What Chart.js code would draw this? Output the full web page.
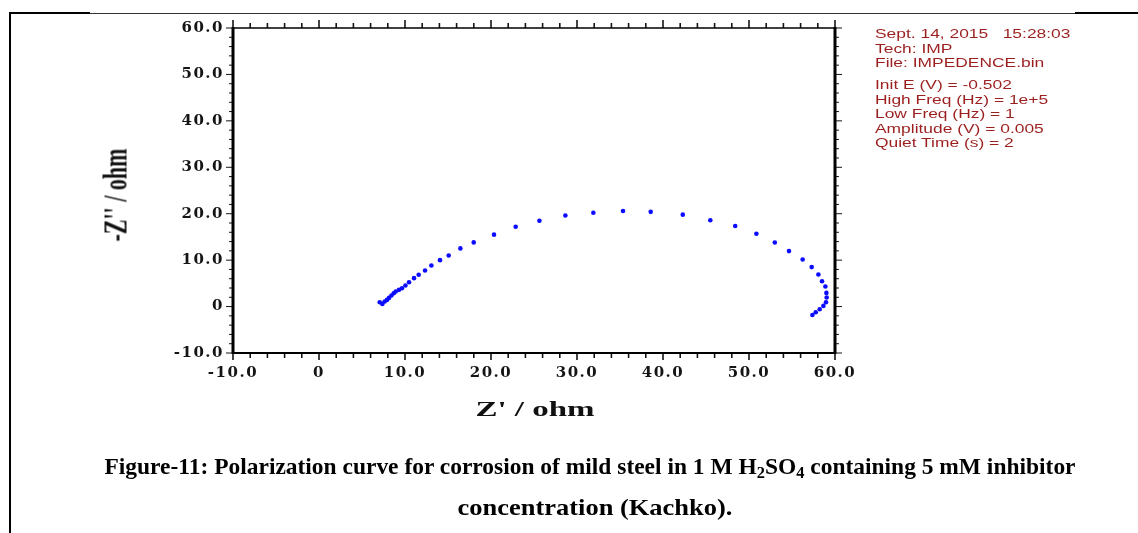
<!DOCTYPE html>
<html>
<head>
<meta charset="utf-8">
<script src="https://cdn.jsdelivr.net/npm/chart.js@4.4.1/dist/chart.umd.min.js"></script>
<style>
  html, body { margin: 0; padding: 0; background: #fff; }
  #page { position: relative; width: 1138px; height: 533px; overflow: hidden; background: #fff; }
  #chart { position: absolute; left: 0; top: 0; }
  .ln { position: absolute; background: #000; }
  .anchor { position: absolute; width: 0; height: 0; }
  .anchor > span { position: absolute; left: 0; top: 0; white-space: pre; }
  #ytitle span { font: bold 22px "Liberation Serif", "Times New Roman", serif; color: #111;
                 transform: translate(-50%, -50%) rotate(-90deg) scaleY(1.5); }
  #xtitle span { font: bold 22px "Liberation Serif", "Times New Roman", serif; color: #111;
                 transform: translate(-50%, -50%) scaleX(1.5); }
  #info { position: absolute; left: 875px; top: 27px; transform-origin: 0 0; transform: scaleX(1.45);
          font: 12px "Liberation Sans", Arial, sans-serif; line-height: 14.5px; color: #9c1f1f; white-space: pre; }
  #info .gap { height: 7.7px; }
  .cap span { font: bold 23px "Liberation Serif", "Times New Roman", serif; color: #000; white-space: nowrap; }
  .cap sub { font-size: 0.7em; vertical-align: -0.25em; line-height: 0; }
</style>
</head>
<body>
<div id="page">
  <canvas id="chart" width="1138" height="533"></canvas>
  <div class="ln" style="left:9px; top:13px; width:1129px; height:1px; background:#333;"></div>
  <div class="ln" style="left:9px; top:12px; width:81px; height:2px;"></div>
  <div class="ln" style="left:1075px; top:12px; width:63px; height:2px;"></div>
  <div class="ln" style="left:9px; top:12px; width:2px; height:521px;"></div>
  <div class="anchor" id="ytitle" style="left:116px; top:195px;"><span>-Z'' / ohm</span></div>
  <div class="anchor" id="xtitle" style="left:535px; top:409px;"><span>Z' / ohm</span></div>
  <div id="info"><div>Sept. 14, 2015   15:28:03</div><div>Tech: IMP</div><div>File: IMPEDENCE.bin</div><div class="gap"></div><div>Init E (V) = -0.502</div><div>High Freq (Hz) = 1e+5</div><div>Low Freq (Hz) = 1</div><div>Amplitude (V) = 0.005</div><div>Quiet Time (s) = 2</div></div>
  <div class="anchor cap" style="left:590px; top:467px;"><span style="transform: translate(-50%, -50%) scaleX(1.02);">Figure-11: Polarization curve for corrosion of mild steel in 1 M H<sub>2</sub>SO<sub>4</sub> containing 5 mM inhibitor</span></div>
  <div class="anchor cap" style="left:594.5px; top:508px;"><span style="transform: translate(-50%, -50%) scaleX(1.15);">concentration (Kachko).</span></div>
</div>
<script>
// ---- data ----
const zReal = [7.06, 7.37, 7.64, 7.91, 8.14, 8.42, 8.69, 8.92, 9.30, 9.65,
               10.05, 10.47, 11.05, 11.59, 12.33, 13.07, 14.07, 15.08, 16.44, 17.99,
               20.35, 22.87, 25.63, 28.65, 31.9, 35.35, 38.57, 42.3, 45.5, 48.4,
               50.86, 53.0, 54.65, 56.24, 57.29, 58.07, 58.49, 58.88, 59.0, 59.03,
               58.95, 58.65, 58.22, 57.76, 57.37];
const zImag = [0.93, 0.58, 1.08, 1.44, 1.87, 2.37, 2.88, 3.24, 3.60, 3.96,
               4.54, 5.25, 6.12, 6.84, 7.78, 8.86, 10.0, 11.0, 12.53, 13.82,
               15.49, 17.2, 18.5, 19.6, 20.2, 20.6, 20.4, 19.8, 18.6, 17.35,
               15.7, 13.8, 11.95, 10.15, 8.5, 6.9, 5.47, 4.32, 2.95, 1.94,
               0.93, 0.15, -0.58, -1.23, -1.8];
const xTickValues = [-10, 0, 10, 20, 30, 40, 50, 60];
const xTickLabels = ['-10.0', '0', '10.0', '20.0', '30.0', '40.0', '50.0', '60.0'];
const yTickValues = [-10, 0, 10, 20, 30, 40, 50, 60];
const yTickLabels = ['-10.0', '0', '10.0', '20.0', '30.0', '40.0', '50.0', '60.0'];
const minorStep = 2;

const points = zReal.map((x, i) => ({ x: x, y: zImag[i] }));

const frameTicks = {
  id: 'frameTicks',
  beforeDraw(chart) { chart.ctx.letterSpacing = '1.5px'; },
  afterDraw(chart) { chart.ctx.letterSpacing = '0px'; },
  beforeDatasetsDraw(chart) {
    const { ctx, chartArea: a, scales: { x, y } } = chart;
    const line = (x1, y1, x2, y2) => { ctx.beginPath(); ctx.moveTo(x1, y1); ctx.lineTo(x2, y2); ctx.stroke(); };
    ctx.save();
    ctx.strokeStyle = '#151515';
    const xmin = xTickValues[0], xmax = xTickValues[xTickValues.length - 1];
    for (let v = xmin; v <= xmax; v += minorStep) {
      const px = x.getPixelForValue(v);
      const major = xTickValues.includes(v);
      ctx.lineWidth = 1.6;
      line(px, a.bottom, px, a.bottom + (major ? 7 : 5));
      line(px, a.top, px, a.top - (major ? 8 : 5));
    }
    const ymin = yTickValues[0], ymax = yTickValues[yTickValues.length - 1];
    for (let v = ymin; v <= ymax; v += minorStep) {
      const py = y.getPixelForValue(v);
      const major = yTickValues.includes(v);
      ctx.lineWidth = 1;
      line(a.left, py, a.left - (major ? 7 : 4), py);
      line(a.right, py, a.right + (major ? 7 : 4), py);
    }
    ctx.strokeStyle = '#000';
    ctx.lineWidth = 3;
    line(a.left, a.top - 1, a.left, a.bottom + 1);
    line(a.right, a.top - 1, a.right, a.bottom + 1);
    ctx.lineWidth = 1.6;
    line(a.left, a.top, a.right, a.top);
    ctx.lineWidth = 2;
    line(a.left, a.bottom, a.right, a.bottom);
    ctx.restore();
  }
};

const tickFont = { family: 'DejaVu Serif', weight: 'bold', size: 15 };

new Chart(document.getElementById('chart'), {
  type: 'scatter',
  data: {
    datasets: [{
      data: points,
      pointRadius: 2.3,
      pointHoverRadius: 2.3,
      pointBackgroundColor: '#0b0bff',
      pointBorderWidth: 0,
      showLine: false,
      clip: false
    }]
  },
  options: {
    responsive: false,
    animation: false,
    devicePixelRatio: 1,
    layout: { padding: { left: 0, top: 28, right: 303, bottom: 100 } },
    plugins: { legend: { display: false }, tooltip: { enabled: false }, title: { display: false } },
    scales: {
      x: {
        type: 'linear', position: 'bottom',
        min: xTickValues[0], max: xTickValues[xTickValues.length - 1],
        afterBuildTicks: s => { s.ticks = xTickValues.map(v => ({ value: v })); },
        afterFit: s => { s.height = 80; },
        grid: { display: false, drawTicks: false },
        border: { display: false },
        ticks: {
          font: tickFont, color: '#151515', padding: 11, maxRotation: 0, autoSkip: false,
          callback: (v, i) => xTickLabels[i]
        }
      },
      y: {
        type: 'linear', position: 'left',
        min: yTickValues[0], max: yTickValues[yTickValues.length - 1],
        afterBuildTicks: s => { s.ticks = yTickValues.map(v => ({ value: v })); },
        afterFit: s => { s.width = 233; },
        grid: { display: false, drawTicks: false },
        border: { display: false },
        ticks: {
          font: tickFont, color: '#151515', padding: 9, autoSkip: false,
          callback: (v, i) => yTickLabels[i]
        }
      }
    }
  },
  plugins: [frameTicks]
});
</script>
</body>
</html>
